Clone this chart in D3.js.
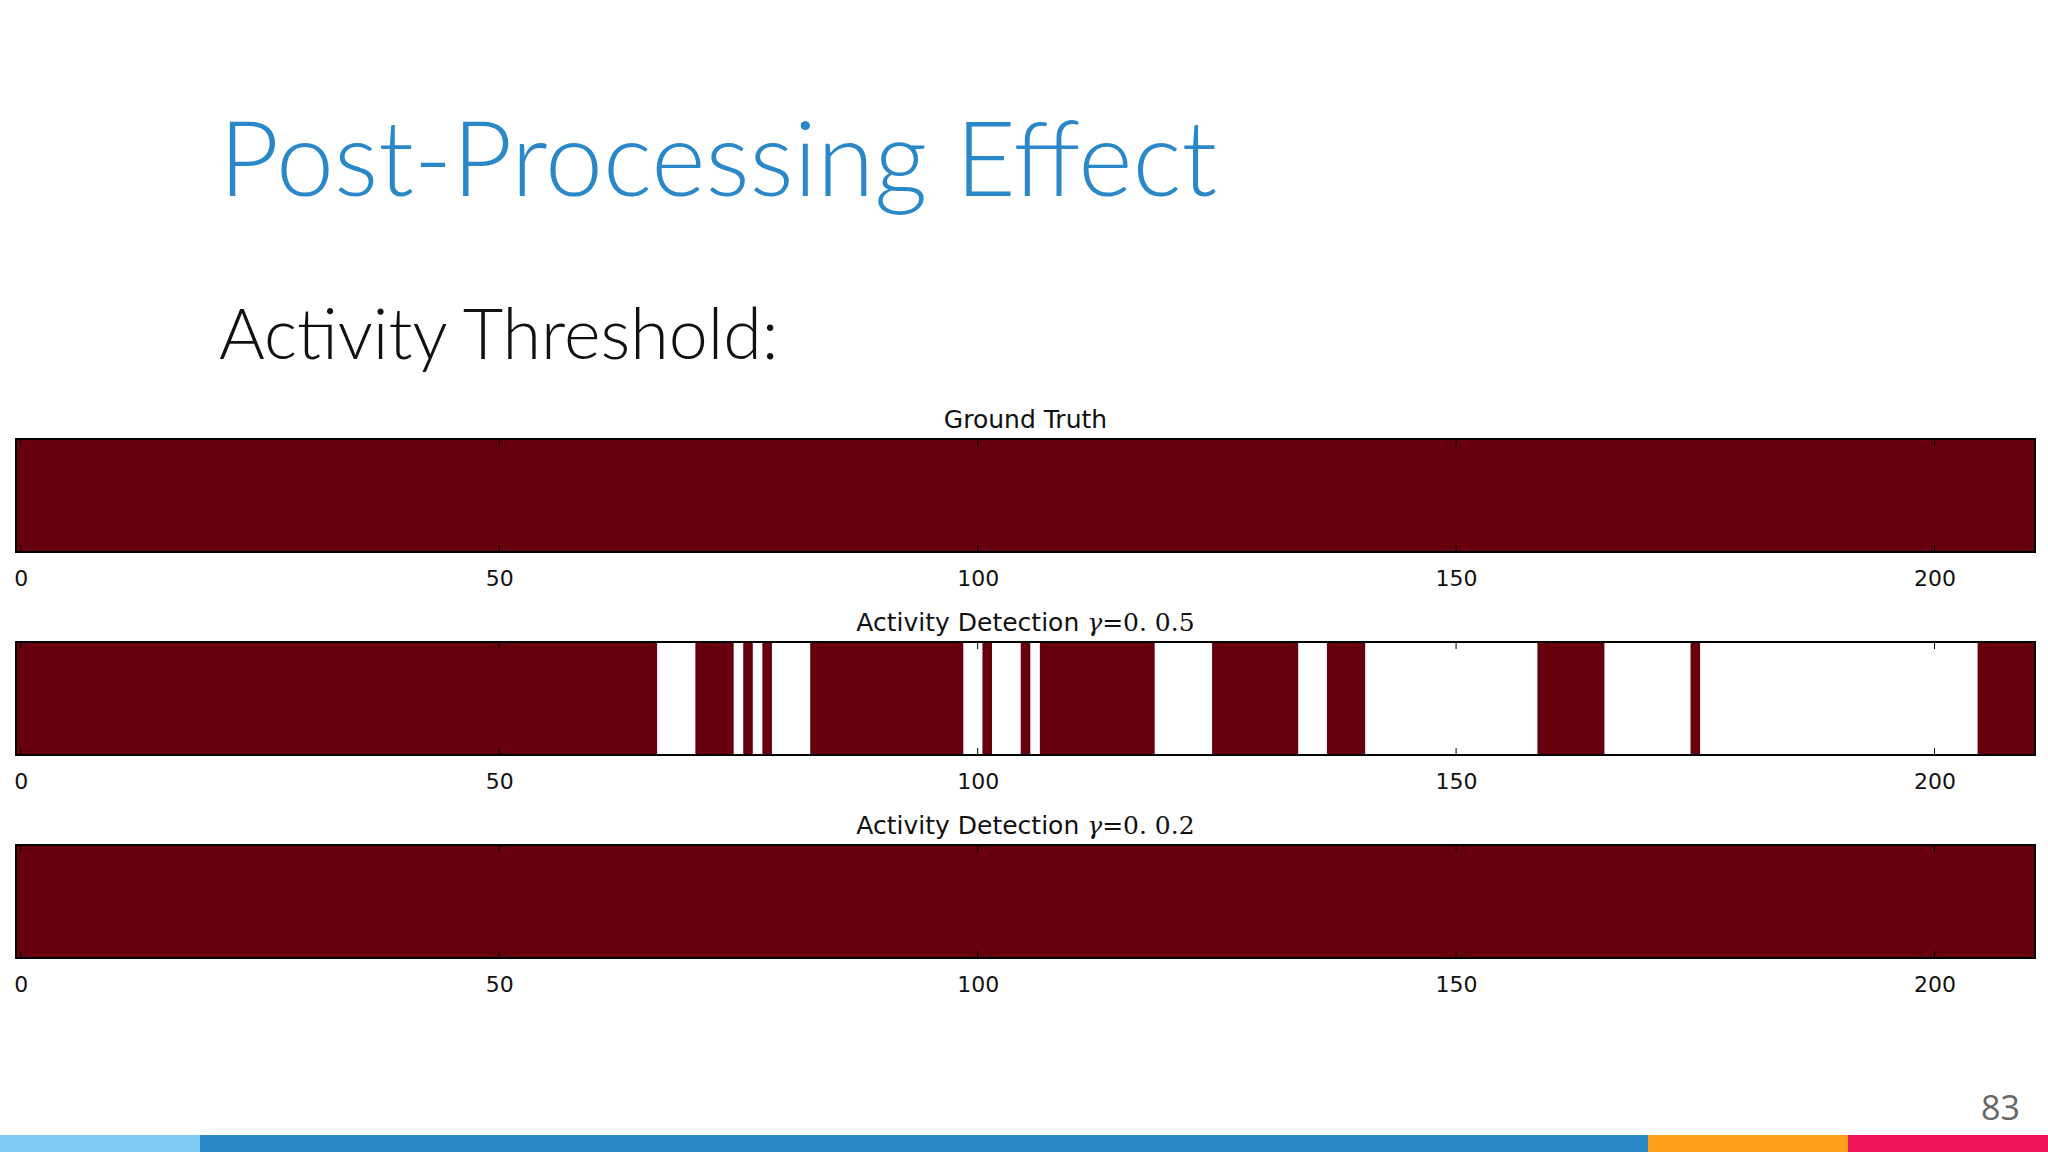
<!DOCTYPE html>
<html><head><meta charset="utf-8">
<script src="https://cdn.jsdelivr.net/npm/d3@7"></script>
<style>body{margin:0;background:#fff}svg{display:block}</style>
</head><body>
<svg id="c" width="2048" height="1152"></svg>
<script>
// data: 211 frames per strip, 1 = activity, 0 = none
var nFrames = 211;
var truthActive = [[0, 210]];
var detect05Active = [[0, 66], [71, 74], [76, 76], [78, 78], [83, 98], [101, 101], [105, 105], [107, 118], [125, 133], [137, 140], [159, 165], [175, 175], [205, 210]];
var detect02Active = [[0, 210]];
var tickValues = [0, 50, 100, 150, 200];
var panels = [
  {title: 'Activity Detection', gamma: null, runs: truthActive},
  {title: 'Activity Detection', gamma: '0.5', runs: detect05Active},
  {title: 'Activity Detection', gamma: '0.2', runs: detect02Active}
];
panels[0].title = 'Ground Truth';
var footerColors = ['#7fcbf5', '#2a87c8', '#ff9f1c', '#f01458'];
var footerStops = [0, 200, 1648, 1848, 2048];

var svg = d3.select('#c');

svg.append('text').attr('x', 219).attr('y', 196)
  .style('font', '300 104px Lato, "Open Sans", sans-serif').attr('fill', '#2a87c8')
  .text('Post-Processing Effect');
svg.append('text').attr('x', 219).attr('y', 359)
  .style('font', '300 70px Lato, "Open Sans", sans-serif').attr('fill', '#111')
  .text('Activity Threshold:');
svg.append('text').attr('x', 2020).attr('y', 1120).attr('text-anchor', 'end')
  .style('font', '34px "Open Sans", sans-serif').attr('fill', '#666').text('83');

var x = d3.scaleLinear().domain([-0.5, nFrames - 0.5]).range([16, 2035]);
var panelTops = [439, 642, 845], panelH = 113;

panels.forEach(function(p, k) {
  var g = svg.append('g').attr('transform', 'translate(0,' + panelTops[k] + ')');
  var t = g.append('text').attr('x', (x.range()[0] + x.range()[1]) / 2).attr('y', -11)
    .attr('text-anchor', 'middle').style('font', '25px "DejaVu Sans", sans-serif').attr('fill', '#111');
  t.append('tspan').text(p.title);
  if (p.gamma) {
    t.append('tspan').text(' γ').style('font-family', '"DejaVu Serif", serif').style('font-style', 'italic');
    t.append('tspan').text('=0. ' + p.gamma).style('font-family', '"DejaVu Serif", serif');
  }
  g.selectAll('rect.cell').data(p.runs).enter().append('rect')
    .attr('x', function(d) { return x(d[0] - 0.5); })
    .attr('width', function(d) { return x(d[1] + 0.5) - x(d[0] - 0.5); })
    .attr('y', 0).attr('height', panelH).attr('fill', '#66000f');
  g.append('rect').attr('x', x.range()[0]).attr('y', 0).attr('width', x.range()[1] - x.range()[0])
    .attr('height', panelH).attr('fill', 'none').attr('stroke', '#000').attr('stroke-width', 2);
  g.append('g').attr('transform', 'translate(0,' + panelH + ')')
    .call(d3.axisBottom(x).tickValues(tickValues).tickSize(0).tickPadding(18))
    .call(function(a) { a.select('.domain').remove(); a.selectAll('text').style('font', '22px "DejaVu Sans", sans-serif').attr('fill', '#111'); });
  tickValues.forEach(function(v) {
    g.append('line').attr('x1', x(v)).attr('x2', x(v)).attr('y1', 0).attr('y2', 7).attr('stroke', '#000');
    g.append('line').attr('x1', x(v)).attr('x2', x(v)).attr('y1', panelH).attr('y2', panelH - 7).attr('stroke', '#000');
  });
});

footerColors.forEach(function(c, i) {
  svg.append('rect').attr('x', footerStops[i]).attr('y', 1135)
    .attr('width', footerStops[i + 1] - footerStops[i]).attr('height', 17).attr('fill', c);
});
</script>
</body></html>
